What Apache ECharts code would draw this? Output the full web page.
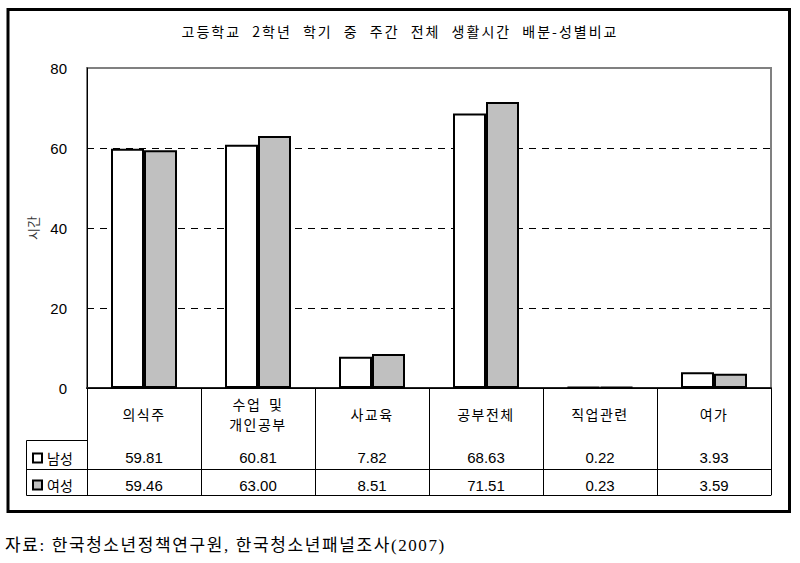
<!DOCTYPE html>
<html>
<head>
<meta charset="utf-8">
<script src="https://cdn.jsdelivr.net/npm/echarts@6/dist/echarts.min.js"></script>
<style>
  html, body { margin: 0; padding: 0; background: #fff; }
  #chart { width: 800px; height: 563px; }
</style>
</head>
<body>
<div id="chart"></div>
<script>
const titleText = '고등학교 2학년 학기 중 주간 전체 생활시간 배분-성별비교';
const sourceText = '자료: 한국청소년정책연구원, 한국청소년패널조사(2007)';
const categories = ['의식주', '수업 및\n개인공부', '사교육', '공부전체', '직업관련', '여가'];
const seriesNames = ['남성', '여성'];
const maleValues = [59.81, 60.81, 7.82, 68.63, 0.22, 3.93];
const femaleValues = [59.46, 63.00, 8.51, 71.51, 0.23, 3.59];
const yAxisName = '시간';
const yTicks = { min: 0, max: 80, interval: 20 };

const KR = "'Noto Sans CJK KR', sans-serif";
const NUM = "'Liberation Sans', 'Noto Sans CJK KR', sans-serif";

const chart = echarts.init(document.getElementById('chart'), null, { renderer: 'svg' });

const tableAxisBase = {
  type: 'category',
  data: categories,
  position: 'bottom',
  gridIndex: 0,
  axisTick: { show: false },
  axisLine: { show: true, lineStyle: { color: '#000', width: 1 } },
  splitLine: { show: false }
};

chart.setOption({
  animation: false,
  backgroundColor: '#fff',
  title: [
    {
      text: titleText,
      left: 'center',
      top: 19,
      textStyle: { fontFamily: KR, fontSize: 14, fontWeight: 'normal', color: '#000' }
    },
    {
      text: sourceText,
      left: 0,
      top: 532,
      textStyle: { fontFamily: "'Liberation Serif', 'Noto Sans CJK KR', serif", fontSize: 17, fontWeight: 'normal', color: '#000' }
    }
  ],
  legend: {
    data: seriesNames,
    orient: 'vertical',
    left: 32,
    top: 451,
    padding: 0,
    itemWidth: 9,
    itemHeight: 9,
    itemGap: 13,
    icon: 'rect',
    selectedMode: false,
    itemStyle: { borderColor: '#000', borderWidth: 2 },
    textStyle: { fontFamily: KR, fontSize: 14, color: '#000' }
  },
  grid: {
    left: 87, right: 29, top: 68, bottom: 175,
    show: true, borderColor: '#808080', borderWidth: 2, backgroundColor: 'transparent'
  },
  yAxis: {
    type: 'value',
    min: yTicks.min, max: yTicks.max, interval: yTicks.interval,
    name: yAxisName,
    nameLocation: 'middle',
    nameGap: 47,
    nameRotate: 90,
    nameTextStyle: { fontFamily: KR, fontSize: 13, color: '#333' },
    axisLine: { show: true, lineStyle: { color: '#000', width: 1 } },
    axisTick: { show: false },
    axisLabel: { fontFamily: NUM, fontSize: 15, color: '#000', margin: 20 },
    splitLine: { show: true, showMinLine: false, showMaxLine: false, lineStyle: { color: '#000', width: 1, type: [7, 6] } }
  },
  xAxis: [
    {
      type: 'category',
      data: categories,
      position: 'bottom',
      axisLine: { show: true, onZero: false, lineStyle: { color: '#222', width: 2 } },
      axisTick: { show: true, interval: 0, length: 107, alignWithLabel: false, lineStyle: { color: '#000', width: 1 } },
      axisLabel: { interval: 0, margin: 26, verticalAlign: 'middle', fontFamily: KR, fontSize: 14, color: '#000', lineHeight: 20 }
    },
    Object.assign({}, tableAxisBase, {
      offset: 52,
      axisLabel: {
        interval: 0, margin: 17, verticalAlign: 'middle', fontFamily: NUM, fontSize: 15, color: '#000',
        formatter: (v, i) => maleValues[i].toFixed(2)
      }
    }),
    Object.assign({}, tableAxisBase, {
      offset: 81,
      axisLabel: {
        interval: 0, margin: 16, verticalAlign: 'middle', fontFamily: NUM, fontSize: 15, color: '#000',
        formatter: (v, i) => femaleValues[i].toFixed(2)
      }
    }),
    Object.assign({}, tableAxisBase, {
      offset: 107,
      axisLabel: { show: false }
    })
  ],
  series: [
    {
      name: seriesNames[0],
      type: 'bar',
      xAxisIndex: 0,
      data: maleValues,
      barWidth: 33,
      barGap: '0%',
      itemStyle: { color: '#ffffff', borderColor: '#000', borderWidth: 2 }
    },
    {
      name: seriesNames[1],
      type: 'bar',
      xAxisIndex: 0,
      data: femaleValues,
      barWidth: 33,
      barGap: '0%',
      itemStyle: { color: '#c0c0c0', borderColor: '#000', borderWidth: 2 }
    }
  ],
  graphic: [
    { type: 'rect', shape: { x: 8, y: 9.5, width: 781.5, height: 502 }, style: { fill: 'none', stroke: '#000', lineWidth: 3 }, silent: true },
    { type: 'polyline', shape: { points: [[87, 440.5], [26.5, 440.5], [26.5, 495.5], [87, 495.5]] }, style: { fill: 'none', stroke: '#000', lineWidth: 1 }, silent: true },
    { type: 'line', shape: { x1: 26.5, y1: 469.5, x2: 87, y2: 469.5 }, style: { stroke: '#000', lineWidth: 1 }, silent: true }
  ]
});

const catLines = new Set();
categories.forEach(c => c.split('\n').forEach(s => catLines.add(s)));

function setSpacing(t, ls, ws) {
  t.setAttribute('letter-spacing', ls + 'px');
  t.style.letterSpacing = ls + 'px';
  if (ws != null) {
    t.setAttribute('word-spacing', ws + 'px');
    t.style.wordSpacing = ws + 'px';
  }
}
function applySpacing() {
  const texts = document.querySelectorAll('#chart svg text, #chart svg tspan');
  texts.forEach(t => {
    const c = (t.textContent || '').trim();
    if (c === titleText) setSpacing(t, 2, 6);
    else if (c === sourceText) setSpacing(t, 1.6, 0);
    else if (catLines.has(c)) setSpacing(t, 1.5, 3);
  });
}
applySpacing();
chart.on('finished', applySpacing);
chart.on('rendered', applySpacing);
requestAnimationFrame(() => { applySpacing(); requestAnimationFrame(applySpacing); });
[0, 30, 100, 300, 600, 1000, 2000].forEach(d => setTimeout(applySpacing, d));
</script>
</body>
</html>
